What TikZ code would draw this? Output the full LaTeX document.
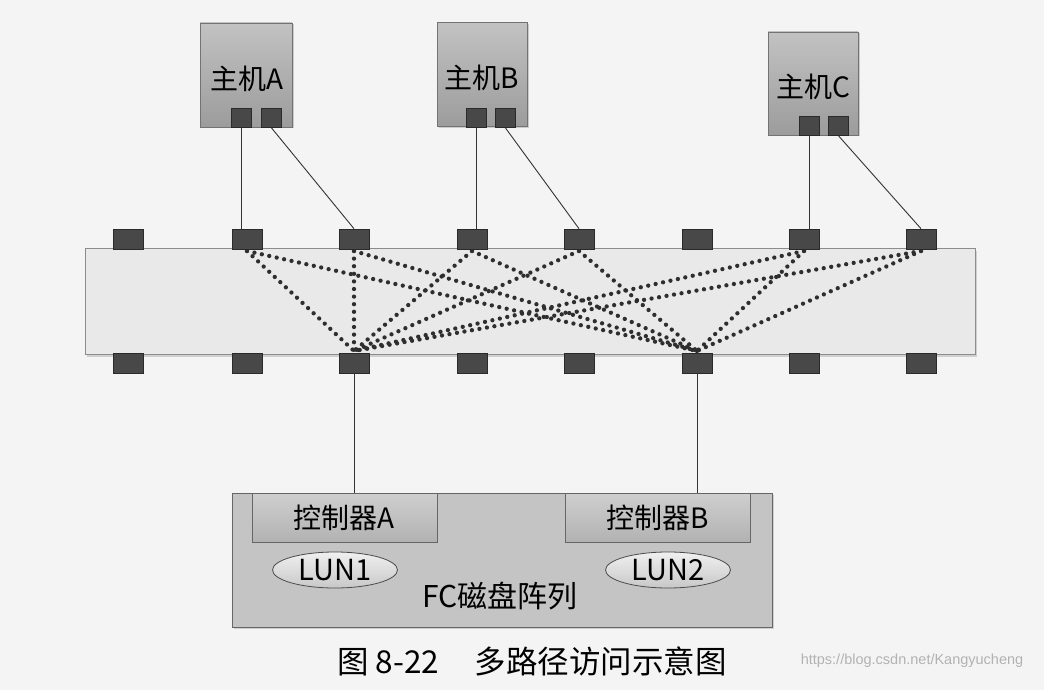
\documentclass[tikz,border=0pt]{standalone}
\usepackage{fontspec}
\setmainfont{Noto Sans CJK SC}
\newfontfamily\wmfont{Liberation Sans}
\usetikzlibrary{shapes.geometric,shadows}
\definecolor{bgc}{HTML}{F4F4F4}
\definecolor{portc}{HTML}{484848}
\definecolor{portb}{HTML}{2A2A2A}
\definecolor{hosttop}{HTML}{C2C2C2}
\definecolor{hostbot}{HTML}{9C9C9C}
\definecolor{swc}{HTML}{E9E9E9}
\definecolor{diskc}{HTML}{C4C4C4}
\definecolor{ctop}{HTML}{CFCFCF}
\definecolor{cbot}{HTML}{B2B2B2}
\definecolor{lunt}{HTML}{F0F0F0}
\definecolor{lunb}{HTML}{C8C8C8}
\definecolor{linec}{HTML}{333333}
\definecolor{dotc}{HTML}{2E2E2E}
\tikzset{
  host/.style={draw=black!55, line width=0.8pt, top color=hosttop, bottom color=hostbot,
    minimum width=92pt, minimum height=104pt, inner sep=0pt,
    drop shadow={shadow xshift=1.5pt, shadow yshift=-1.5pt, opacity=0.35}},
  hport/.style={draw=portb, fill=portc, line width=0.6pt, minimum width=20pt, minimum height=19pt, inner sep=0pt},
  sport/.style={draw=portb, fill=portc, line width=0.6pt, minimum width=30pt, minimum height=20pt, inner sep=0pt},
  switchbox/.style={draw=black!45, line width=0.8pt, fill=swc, minimum width=890pt, minimum height=106pt, inner sep=0pt,
    drop shadow={shadow xshift=1.5pt, shadow yshift=-2pt, opacity=0.3}},
  diskbox/.style={draw=black!60, line width=0.8pt, fill=diskc, minimum width=540pt, minimum height=134pt, inner sep=0pt,
    drop shadow={shadow xshift=1.5pt, shadow yshift=-1.5pt, opacity=0.3}},
  ctrl/.style={draw=black!60, line width=0.8pt, top color=ctop, bottom color=cbot, minimum width=185pt, minimum height=49pt, inner sep=0pt,
    font=\fontsize{28}{30}\selectfont},
  lun/.style={ellipse, draw=black!70, line width=0.8pt, top color=lunt, bottom color=lunb, minimum width=125pt, minimum height=36pt, inner sep=0pt,
    font=\fontsize{29}{30}\selectfont},
  lbl/.style={font=\fontsize{28}{30}\selectfont, inner sep=0pt},
  solidlink/.style={draw=linec, line width=0.9pt},
  dotlink/.style={draw=dotc, line width=4.3pt, line cap=round, dash pattern=on 0pt off 7.6pt}
}
\begin{document}
\begin{tikzpicture}[x=1pt,y=-1pt]
\fill[bgc] (0,0) rectangle (1044,690);
\useasboundingbox (0,0) rectangle (1044,690);

% hosts
\node[host] (hA) at (246,75) {};
\node[host, minimum width=90pt] (hB) at (482,74.5) {};
\node[host, minimum width=90pt, minimum height=103pt] (hC) at (813,83.5) {};
\node[lbl] (hAt) at (247,79) {主机A};
\node[lbl] (hBt) at (482,78) {主机B};
\node[lbl] (hCt) at (813,87) {主机C};
\node[hport] (a1) at (241,117.5) {};
\node[hport] (a2) at (271,117.5) {};
\node[hport] (b1) at (476,117.5) {};
\node[hport] (b2) at (505,117.5) {};
\node[hport] (c1) at (809,126) {};
\node[hport] (c2) at (838.5,126) {};

% switch
\node[switchbox] (sw) at (530,301.5) {};

% switch ports coordinates
\foreach \i/\x in {1/128.5,2/247,3/354,4/472,5/579,6/697,7/804,8/921}{
  \coordinate (tpc\i) at (\x,239);
  \coordinate (bpc\i) at (\x,363);
}
% dotted internal paths
\foreach \i in {2,3,4,5,7,8}{
  \draw[dotlink] ([yshift=-12pt]tpc\i) -- ([yshift=12pt]bpc3);
  \draw[dotlink] ([yshift=-12pt]tpc\i) -- ([yshift=12pt]bpc6);
}
\foreach \i in {1,...,8}{
  \node[sport] (tp\i) at (tpc\i) {};
  \node[sport] (bp\i) at (bpc\i) {};
}

% host to switch links
\draw[solidlink] (a1.south) -- (a1.south |- tp2.north);
\draw[solidlink] (a2.south) -- (tp3.north);
\draw[solidlink] (b1.south) -- (b1.south |- tp4.north);
\draw[solidlink] (b2.south) -- (tp5.north);
\draw[solidlink] (c1.south) -- (c1.south |- tp7.north);
\draw[solidlink] (c2.south) -- (tp8.north);

% disk array
\node[diskbox] (disk) at (502,560) {};
\node[ctrl] (cA) at (344.5,517.5) {控制器A};
\node[ctrl] (cB) at (657.5,517.5) {控制器B};
\node[lun] (l1) at (335,570) {LUN1};
\node[lun] (l2) at (668,570) {LUN2};
\node[lbl, font=\fontsize{30}{32}\selectfont] (fc) at (500,596) {FC磁盘阵列};

\draw[solidlink] (bp3.south) -- (bp3.south |- cA.north);
\draw[solidlink] (bp6.south) -- (bp6.south |- cB.north);

% caption
\node[inner sep=0pt, font=\fontsize{31.5}{34}\selectfont] (cap) at (532,661) {图 8-22\hspace{36pt}多路径访问示意图};
\node[inner sep=0pt, text=black!30, font=\wmfont\fontsize{14.5}{16}\selectfont] (wm) at (912,661) {https://blog.csdn.net/Kangyucheng};
\end{tikzpicture}
\end{document}
